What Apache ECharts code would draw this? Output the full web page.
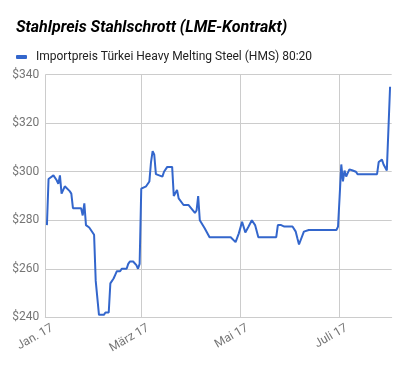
<!DOCTYPE html>
<html>
<head>
<meta charset="utf-8">
<script src="https://cdn.jsdelivr.net/npm/echarts@6/dist/echarts.min.js"></script>
<style>html,body{margin:0;padding:0;background:#fff}#c{width:408px;height:371px}</style>
</head>
<body>
<div id="c"></div>
<script>
const dates = ['2017-01-02','2017-01-03','2017-01-04','2017-01-06','2017-01-08','2017-01-09','2017-01-10','2017-01-11','2017-01-12','2017-01-13','2017-01-16','2017-01-17','2017-01-18','2017-01-23','2017-01-24','2017-01-25','2017-01-26','2017-01-28','2017-01-31',
'2017-02-01','2017-02-03','2017-02-06','2017-02-07','2017-02-09','2017-02-10','2017-02-12','2017-02-13','2017-02-14','2017-02-16','2017-02-17','2017-02-20','2017-02-21','2017-02-22','2017-02-24','2017-02-26','2017-02-27','2017-02-28',
'2017-03-01','2017-03-02','2017-03-04','2017-03-06','2017-03-07','2017-03-08','2017-03-09','2017-03-10','2017-03-12','2017-03-14','2017-03-15','2017-03-16','2017-03-17','2017-03-20','2017-03-21','2017-03-22','2017-03-23','2017-03-24','2017-03-27','2017-03-30',
'2017-04-03','2017-04-04','2017-04-05','2017-04-06','2017-04-07','2017-04-09','2017-04-12','2017-04-25','2017-04-28','2017-04-30',
'2017-05-02','2017-05-04','2017-05-06','2017-05-08','2017-05-10','2017-05-11','2017-05-12','2017-05-23','2017-05-24','2017-05-26','2017-05-28',
'2017-06-02','2017-06-04','2017-06-05','2017-06-06','2017-06-07','2017-06-09','2017-06-12','2017-06-29','2017-06-30',
'2017-07-01','2017-07-02','2017-07-03','2017-07-04','2017-07-05','2017-07-06','2017-07-07','2017-07-09','2017-07-11','2017-07-12','2017-07-24','2017-07-25','2017-07-26','2017-07-27','2017-07-28','2017-07-30','2017-07-31',
'2017-08-01'];
const prices = [278,297,297.5,298.5,296.5,295,298.5,291,291,294,292,291,285,285,282,287,278,277,274,
255,241,241,242,242,254,256,257.5,259,259,260,260,262,263,263,261.5,260,262,
293,293,294,296,304,308.5,307,299,298.5,298,300,300.5,302,302,290,290,292.5,289,286.3,286.3,
283,284,290,280,279.7,276.7,273,273,271,274.6,
279.4,275,277.4,280,278,278,273,273,278,278,277.4,
277.4,275.3,272.6,270,270,275.3,276,276,277.4,
290,303,296,300.5,298,299.5,301,300.5,300,299,299,304,304.5,305,303,300.5,301,
335];
const seriesName = 'Importpreis Türkei Heavy Melting Steel (HMS) 80:20';
const titleText = 'Stahlpreis Stahlschrott (LME-Kontrakt)';
const xTickDates = ['2017-01-01','2017-03-01','2017-05-01','2017-07-01'];
const xTickLabels = ['Jan. 17','März 17','Mai 17','Juli 17'];
const yTicks = [240,260,280,300,320,340];

function ts(s){const p=s.split('-').map(Number);return new Date(p[0],p[1]-1,p[2]).getTime();}
const tickTs = xTickDates.map(ts);
const data = dates.map((d,i)=>[ts(d),prices[i]]);

const chart = echarts.init(document.getElementById('c'), null, {renderer:'canvas'});
chart.setOption({
  animation:false,
  textStyle:{fontFamily:'Roboto'},
  title:{text:titleText,left:11,top:15,textStyle:{fontFamily:'Roboto',fontSize:16,fontWeight:'bold',fontStyle:'italic',color:'#000'}},
  legend:{left:11,top:46,icon:'roundRect',itemWidth:11,itemHeight:4,
    textStyle:{fontFamily:'Roboto',fontSize:12,color:'#222',padding:[0,0,0,4]},data:[seriesName]},
  grid:{left:45.3,right:16.3,top:74.7,bottom:53.7,containLabel:false},
  xAxis:{type:'value',min:ts('2017-01-01'),max:ts('2017-08-02'),
    axisLine:{show:true,lineStyle:{color:'#ccc'}},
    axisTick:{show:false,customValues:tickTs},
    splitLine:{show:true,lineStyle:{color:'#ccc',width:1}},
    axisLabel:{customValues:tickTs,rotate:30,margin:14,padding:[0,-8,0,0],fontSize:12,color:'#757575',fontFamily:'Roboto',
      formatter:function(v){const i=tickTs.indexOf(v);return i>=0?xTickLabels[i]:'';}}},
  yAxis:{type:'value',min:yTicks[0],max:yTicks[yTicks.length-1],interval:20,
    axisLine:{show:false},axisTick:{show:false},
    splitLine:{lineStyle:{color:'#ccc',width:1}},
    axisLabel:{fontSize:12,color:'#757575',fontFamily:'Roboto',margin:6,formatter:v=>'$'+v}},
  series:[{name:seriesName,type:'line',data:data,showSymbol:false,symbol:'none',
    lineStyle:{color:'#3366cc',width:2},itemStyle:{color:'#3366cc'}}]
});
</script>
</body>
</html>
